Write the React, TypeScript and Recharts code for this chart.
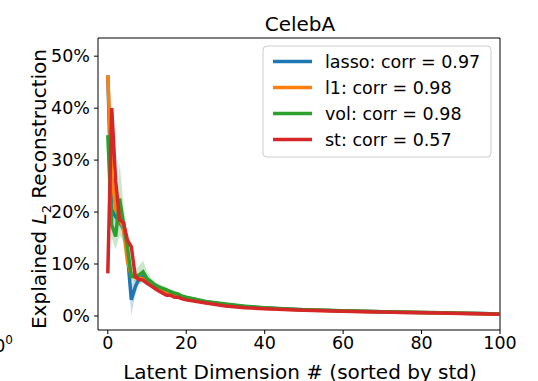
import React from 'react';
import { ComposedChart, Line, Area, XAxis, YAxis, ReferenceLine, Customized } from 'recharts';

const dims = [0, 1, 2, 3, 4, 5, 6, 7, 8, 9, 10, 11, 12, 13, 14, 15, 16, 17, 18, 19, 20,
  25, 30, 35, 40, 45, 50, 55, 60, 65, 70, 75, 80, 85, 90, 95, 100];

const lasso = [46.3, 20.5, 19.1, 18.1, 16.8, 12.0, 3.1, 5.6, 7.2, 7.6, 6.6, 6.2, 5.6, 5.3, 4.9, 4.6, 4.4, 4.0, 3.8, 3.6, 3.5,
  2.7, 2.2, 1.8, 1.55, 1.35, 1.2, 1.08, 0.98, 0.9, 0.82, 0.74, 0.66, 0.6, 0.52, 0.46, 0.4];
const l1 = [46.3, 27, 20.5, 18.8, 16.8, 10.5, 7.8, 7.4, 7.3, 7.1, 6.5, 6.0, 5.5, 5.1, 4.7, 4.4, 4.2, 3.9, 3.7, 3.5, 3.3,
  2.6, 2.1, 1.75, 1.5, 1.3, 1.15, 1.05, 0.95, 0.87, 0.8, 0.72, 0.65, 0.58, 0.5, 0.44, 0.38];
const vol = [34.8, 17.5, 15.3, 22.6, 17.8, 13.3, 7.6, 7.6, 7.9, 8.5, 7.2, 6.6, 6.0, 5.6, 5.3, 5.0, 4.7, 4.4, 4.2, 3.8, 3.6,
  2.8, 2.3, 1.85, 1.6, 1.4, 1.22, 1.1, 1.0, 0.9, 0.83, 0.75, 0.67, 0.6, 0.53, 0.46, 0.4];
const st = [8.2, 40, 26, 18.5, 18, 14.6, 13.3, 7.6, 7.0, 6.9, 6.3, 5.8, 5.3, 4.8, 4.4, 4.0, 4.0, 3.6, 3.6, 3.3, 3.1,
  2.5, 1.9, 1.6, 1.4, 1.25, 1.1, 1.0, 0.9, 0.82, 0.75, 0.68, 0.62, 0.55, 0.48, 0.42, 0.35];

// std spread around the mean (only lasso and vol show a visible band)
const lassoSpread = [0.4, 1.5, 1.2, 1, 1, 2.5, 3, 1.5, 0.8, 0.6, 0.5, 0.4, 0.4, 0.3, 0.3, 0.3, 0.3, 0.3, 0.3, 0.3, 0.2,
  0.2, 0.2, 0.15, 0.15, 0.1, 0.1, 0.1, 0.1, 0.1, 0.1, 0.1, 0.1, 0.1, 0.1, 0.1, 0.1];
const volSpread = [10, 2.5, 2.5, 7, 3.5, 2, 1, 1, 1.8, 2.2, 1.2, 0.8, 0.6, 0.5, 0.5, 0.4, 0.4, 0.4, 0.4, 0.3, 0.3,
  0.25, 0.2, 0.2, 0.15, 0.15, 0.1, 0.1, 0.1, 0.1, 0.1, 0.1, 0.1, 0.1, 0.1, 0.1, 0.1];

const xTicks = [0, 20, 40, 60, 80, 100];
const yTicks = [0, 10, 20, 30, 40, 50];
const xDomain = [-2.5, 100];
const yDomain = [-2.7, 53.5];
const seriesNames = ['lasso: corr = 0.97', 'l1: corr = 0.98', 'vol: corr = 0.98', 'st: corr = 0.57'];
const colors = ['#1f77b4', '#ff7f0e', '#2ca02c', '#d62728'];

const data = dims.map((d, i) => ({
  dim: d,
  lasso: lasso[i],
  l1: l1[i],
  vol: vol[i],
  st: st[i],
  lassoBand: [lasso[i] - lassoSpread[i], lasso[i] + lassoSpread[i]],
  volBand: [vol[i] - volSpread[i], vol[i] + volSpread[i]],
}));

const FONT = 'DejaVu Sans';

const Overlay = () => (
  <g fontFamily={FONT} fill="#000">
    <text x={300} y={31} textAnchor="middle" fontSize={20}>CelebA</text>
    <text x={300} y={379} textAnchor="middle" fontSize={20}>Latent Dimension # (sorted by std)</text>
    <g transform="translate(46,189) rotate(-90)">
      <text x={0} y={0} textAnchor="middle" fontSize={20}>
        Explained <tspan fontStyle="italic">L</tspan>
        <tspan fontSize={13} dy={5}>2</tspan>
        <tspan dy={-5}> Reconstruction</tspan>
      </text>
    </g>
    <text x={-17} y={352} fontSize={17.5}>10<tspan fontSize={12} dy={-8}>0</tspan></text>
    <rect x={263} y={46} width={228} height={111} rx={4} fill="#fff" fillOpacity={0.8} stroke="#ccc" />
    {seriesNames.map((name, i) => (
      <g key={name}>
        <line x1={273} x2={312} y1={61.5 + i * 26} y2={61.5 + i * 26} stroke={colors[i]} strokeWidth={3.5} />
        <text x={325} y={67.5 + i * 26} fontSize={17.5}>{name}</text>
      </g>
    ))}
  </g>
);

export default function App() {
  const tickStyle = { fontSize: 17.5, fill: '#000', fontFamily: FONT };
  return (
    <div style={{ position: 'absolute', left: 0, top: 0, width: 538, height: 381, background: '#fff' }}>
      <ComposedChart width={538} height={381} data={data} margin={{ top: 38, right: 38, bottom: 0, left: 0 }}>
        <XAxis dataKey="dim" type="number" domain={xDomain} ticks={xTicks} allowDataOverflow
          height={51} tick={tickStyle} tickSize={4} tickMargin={3}
          axisLine={{ stroke: '#000' }} tickLine={{ stroke: '#000' }} />
        <YAxis type="number" domain={yDomain} ticks={yTicks} allowDataOverflow width={98}
          tick={tickStyle} tickSize={4} tickMargin={4} tickFormatter={(v: number) => `${v}%`}
          axisLine={{ stroke: '#000' }} tickLine={{ stroke: '#000' }} />
        <ReferenceLine x={xDomain[1]} stroke="#000" />
        <ReferenceLine y={yDomain[1]} stroke="#000" />
        <Area dataKey="lassoBand" type="linear" stroke="none" fill={colors[0]} fillOpacity={0.25} isAnimationActive={false} />
        <Area dataKey="volBand" type="linear" stroke="none" fill={colors[2]} fillOpacity={0.25} isAnimationActive={false} />
        <Line dataKey="lasso" type="linear" stroke={colors[0]} strokeWidth={3.5} dot={false} isAnimationActive={false} />
        <Line dataKey="l1" type="linear" stroke={colors[1]} strokeWidth={3.5} dot={false} isAnimationActive={false} />
        <Line dataKey="vol" type="linear" stroke={colors[2]} strokeWidth={3.5} dot={false} isAnimationActive={false} />
        <Line dataKey="st" type="linear" stroke={colors[3]} strokeWidth={3.5} dot={false} isAnimationActive={false} />
        <Customized component={Overlay} />
      </ComposedChart>
    </div>
  );
}
